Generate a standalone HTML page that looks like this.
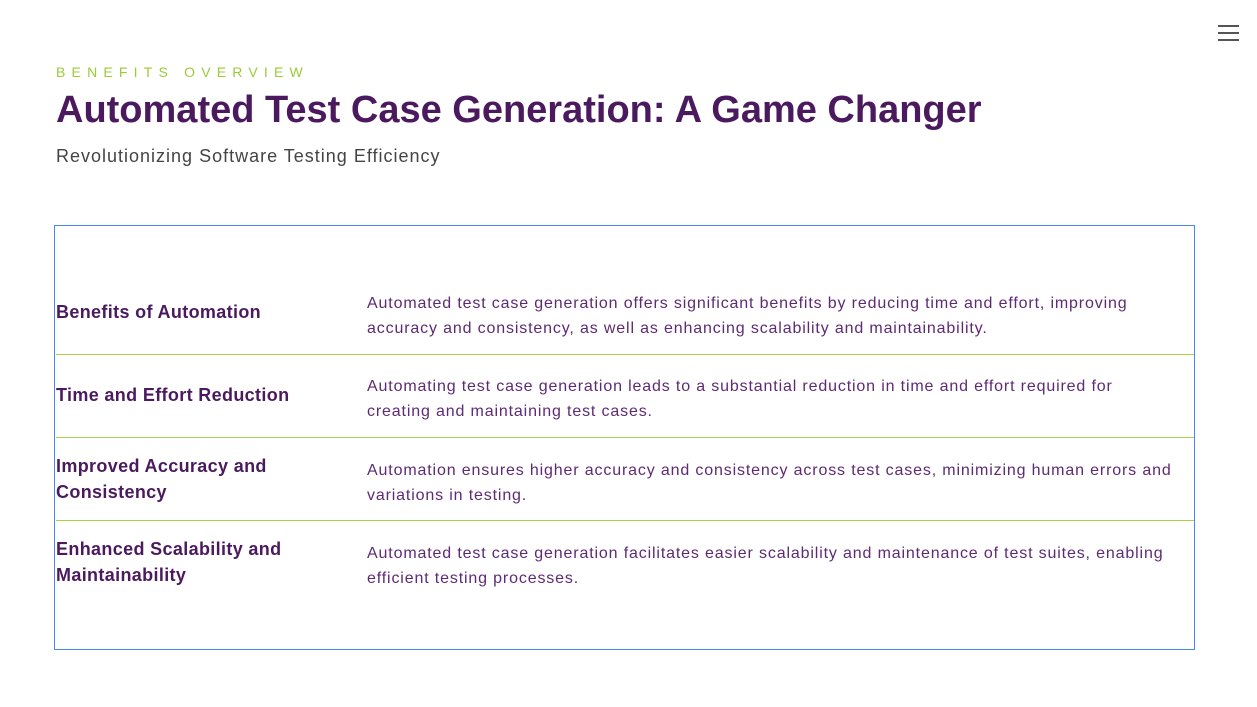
<!DOCTYPE html>
<html><head><meta charset="utf-8"><style>
body{margin:0;width:1257px;height:707px;background:#fff;font-family:"Liberation Sans",sans-serif;position:relative;overflow:hidden}
.a{position:absolute;white-space:nowrap}
.eyebrow{left:56px;top:64px;font-size:14px;letter-spacing:6.2px;color:#9dc93a}
.title{left:56px;top:89px;font-size:38px;font-weight:bold;letter-spacing:0px;color:#4b1a5e}
.sub{left:56px;top:146px;font-size:18px;color:#444;letter-spacing:1px}
.box{left:54px;top:225px;width:1139px;height:423px;border:1px solid #4a86f0}
.sep{position:absolute;left:56px;width:1138px;height:1px;background:#a8d14a}
.lbl{font-size:18px;font-weight:bold;color:#4b1a5e;letter-spacing:0.35px;line-height:26px}
.desc{left:367px;font-size:16px;color:#5e2a73;line-height:24.5px;letter-spacing:0.85px}
.ham{position:absolute;left:1218px;width:21px;height:2px;background:#555}
</style></head><body>
<div class="ham" style="top:25px"></div>
<div class="ham" style="top:32px"></div>
<div class="ham" style="top:39px"></div>
<div class="a eyebrow">BENEFITS OVERVIEW</div>
<div class="a title">Automated Test Case Generation: A Game Changer</div>
<div class="a sub">Revolutionizing Software Testing Efficiency</div>
<div class="a box"></div>
<div class="sep" style="top:354px"></div>
<div class="sep" style="top:437px"></div>
<div class="sep" style="top:520px"></div>

<div class="a lbl" style="left:56px;top:299px">Benefits of Automation</div>
<div class="a desc" style="top:292px">Automated test case generation offers significant benefits by reducing time and effort, improving<br>accuracy and consistency, as well as enhancing scalability and maintainability.</div>

<div class="a lbl" style="left:56px;top:382px">Time and Effort Reduction</div>
<div class="a desc" style="top:375px">Automating test case generation leads to a substantial reduction in time and effort required for<br>creating and maintaining test cases.</div>

<div class="a lbl" style="left:56px;top:453px">Improved Accuracy and<br>Consistency</div>
<div class="a desc" style="top:459px">Automation ensures higher accuracy and consistency across test cases, minimizing human errors and<br>variations in testing.</div>

<div class="a lbl" style="left:56px;top:536px">Enhanced Scalability and<br>Maintainability</div>
<div class="a desc" style="top:542px">Automated test case generation facilitates easier scalability and maintenance of test suites, enabling<br>efficient testing processes.</div>
</body></html>
